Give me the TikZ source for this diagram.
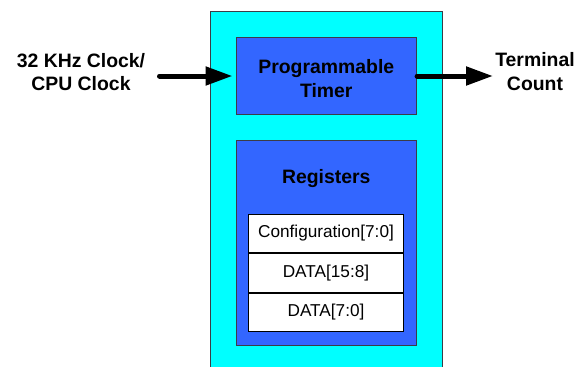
\documentclass[tikz,border=0pt]{standalone}
\usepackage{fontspec}
\setmainfont{Liberation Sans}
\usetikzlibrary{arrows.meta}
\definecolor{cyanfill}{RGB}{0,255,255}
\definecolor{bluefill}{RGB}{51,102,255}
\definecolor{edgegray}{RGB}{60,60,70}
\begin{document}
\begin{tikzpicture}[x=1pt,y=-1pt,
  outerbox/.style={draw=edgegray,line width=0.9pt,fill=cyanfill},
  bluebox/.style={draw=edgegray,line width=0.9pt,fill=bluefill,inner sep=0pt},
  regcell/.style={draw=black,line width=0.9pt,fill=white,inner sep=0pt,
    minimum width=154.6pt,font=\fontsize{17.2}{20}\selectfont},
  sidelabel/.style={font=\fontsize{19.4}{23.4}\selectfont\bfseries,align=center,inner sep=0pt},
  bigarrow/.style={line width=5pt,line cap=round,
    -{Triangle[length=27pt,width=18pt]}}]
\useasboundingbox (0,0) rectangle (587,367);
\begin{scope}
\clip (0,0) rectangle (587,367);
\node[outerbox,minimum width=232pt,minimum height=370pt,anchor=north west,inner sep=0pt] (outer) at (210,11) {};
\end{scope}
\node[bluebox,minimum width=180.7pt,minimum height=77pt] (timer) at (326.3,75.5) {};
\node[sidelabel] (timertext) at (326.3,78.6) {Programmable\\Timer};
\node[bluebox,minimum width=180.7pt,minimum height=205.7pt] (regs) at (326.3,242.8) {};
\node[sidelabel] (regtitle) at (326.3,178.5) {Registers};
\node[regcell,minimum height=38pt] (cfg) at (326,233.3) {Configuration[7:0]};
\node[regcell,minimum height=39pt,anchor=north] (dhi) at (cfg.south) {DATA[15:8]};
\node[regcell,minimum height=38.7pt,anchor=north] (dlo) at (dhi.south) {DATA[7:0]};
\node[sidelabel] (clk) at (81,72) {32 KHz Clock/\\CPU Clock};
\node[sidelabel] (tc) at (535,71.5) {Terminal\\Count};
\coordinate (inStart) at (159.5,76);
\coordinate (outEnd) at (493,76);
\draw[bigarrow,shorten >=3pt] (inStart) -- (timer.west |- inStart);
\draw[bigarrow] (timer.east |- outEnd) -- (outEnd);
\end{tikzpicture}
\end{document}
